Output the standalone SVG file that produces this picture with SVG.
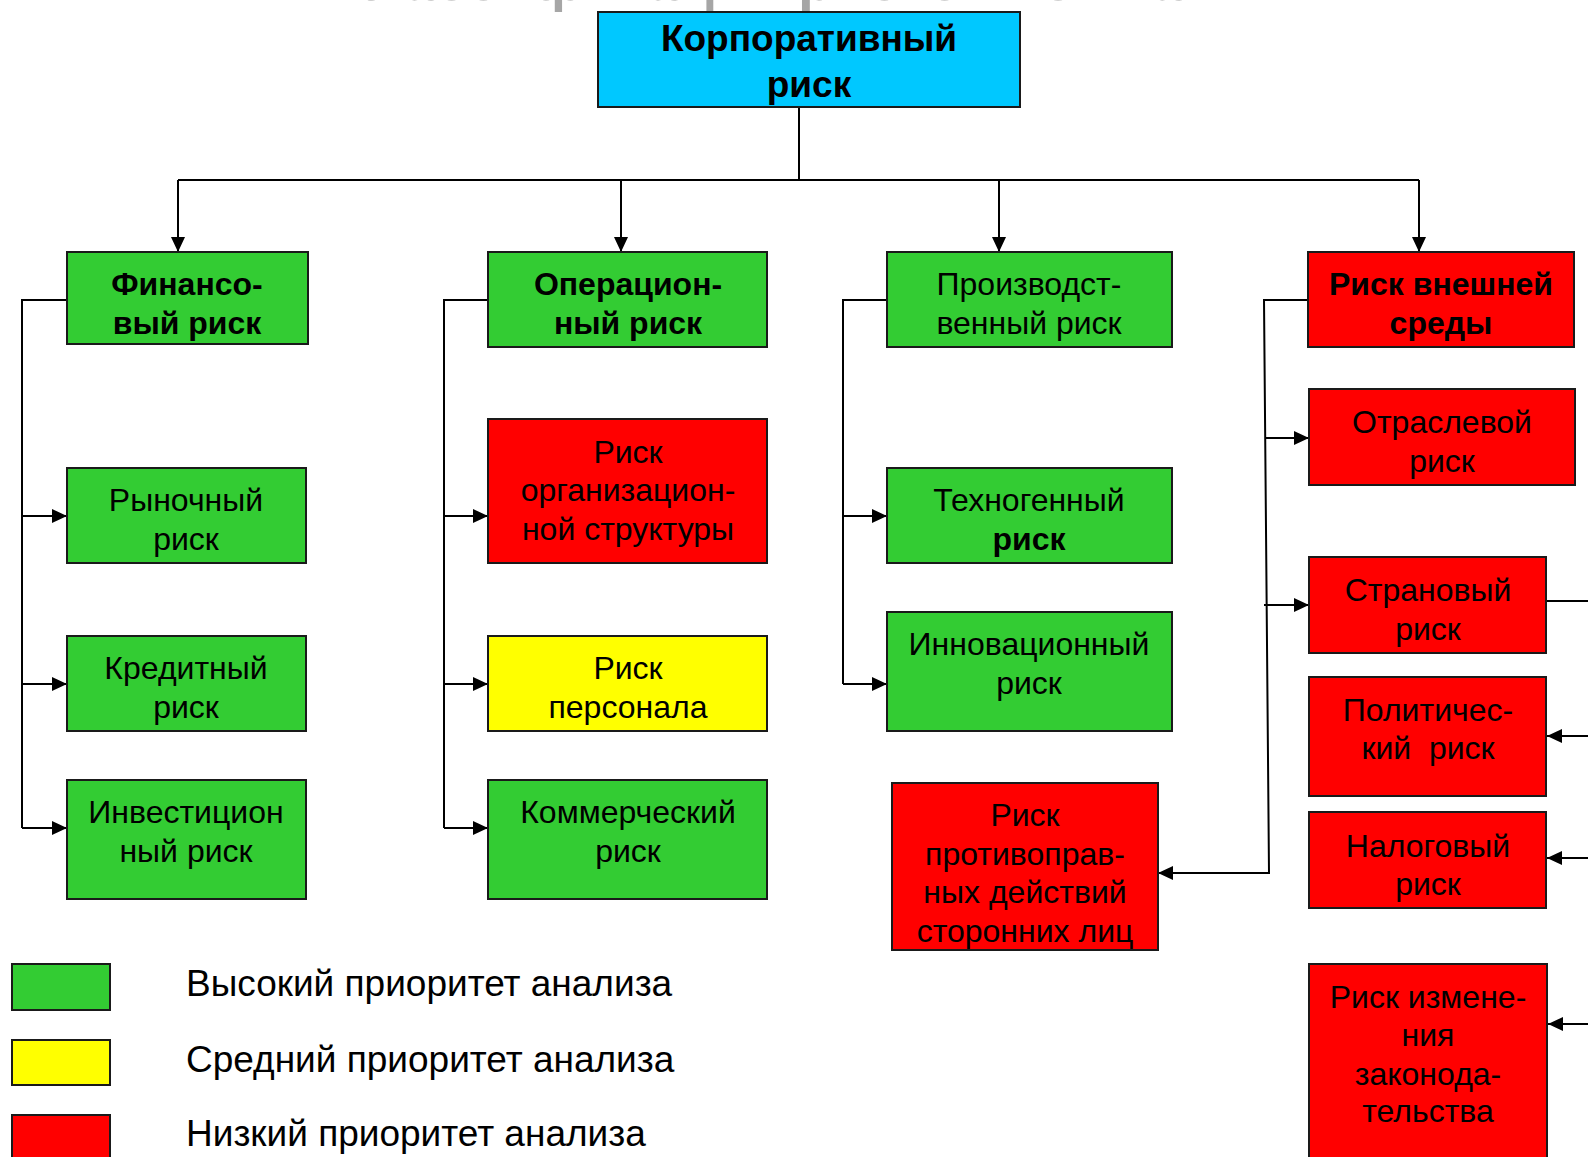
<svg xmlns="http://www.w3.org/2000/svg" width="1588" height="1157" viewBox="0 0 1588 1157">
<defs>
<style>
.box{stroke:#1a1a1a;stroke-width:2}
.g{fill:#33cc33}.r{fill:#ff0000}.y{fill:#ffff00}.b{fill:#00c8ff}
text{font-family:"Liberation Sans",Arial,sans-serif;fill:#000;text-anchor:middle;white-space:pre}
.t{font-size:32px}
.tb{font-size:32px;font-weight:bold}
.top{font-size:37px;font-weight:bold}
.leg{font-size:37px;text-anchor:start}
.title{font-size:57px;font-weight:bold;fill:#a6a6a6}
.c{fill:none;stroke:#000;stroke-width:2}
</style>
<marker id="ar" markerUnits="userSpaceOnUse" markerWidth="16" markerHeight="14" refX="15" refY="7" orient="auto">
<path d="M0,0 L15,7 L0,14 Z" fill="#000"/>
</marker>
</defs>
<rect width="1588" height="1157" fill="#fff"/>
<text class="title" x="810" y="0">Классификация рисков компании</text>

<g id="connectors">
<path class="c" d="M799,107 V180 M178,180 H1419"/>
<path class="c" d="M178,180 V252" marker-end="url(#ar)"/>
<path class="c" d="M621,180 V252" marker-end="url(#ar)"/>
<path class="c" d="M999,180 V252" marker-end="url(#ar)"/>
<path class="c" d="M1419,180 V252" marker-end="url(#ar)"/>
<path class="c" d="M67,300 H22 V828"/>
<path class="c" d="M22,516 H67" marker-end="url(#ar)"/>
<path class="c" d="M22,684 H67" marker-end="url(#ar)"/>
<path class="c" d="M22,828 H67" marker-end="url(#ar)"/>
<path class="c" d="M488,300 H444 V828"/>
<path class="c" d="M444,516 H488" marker-end="url(#ar)"/>
<path class="c" d="M444,684 H488" marker-end="url(#ar)"/>
<path class="c" d="M444,828 H488" marker-end="url(#ar)"/>
<path class="c" d="M887,300 H843 V684"/>
<path class="c" d="M843,516 H887" marker-end="url(#ar)"/>
<path class="c" d="M843,684 H887" marker-end="url(#ar)"/>
<path class="c" d="M1308,300 H1264 L1269,873 H1158" marker-end="url(#ar)"/>
<path class="c" d="M1265,438 H1309" marker-end="url(#ar)"/>
<path class="c" d="M1264,605 H1309" marker-end="url(#ar)"/>
<path class="c" d="M1547,601 H1588"/>
<path class="c" d="M1588,736 H1547" marker-end="url(#ar)"/>
<path class="c" d="M1588,858 H1547" marker-end="url(#ar)"/>
<path class="c" d="M1588,1024 H1548" marker-end="url(#ar)"/>
</g>

<g id="n-corp"><rect class="box b" x="598" y="12" width="422" height="95"/>
<text class="top" x="809" y="51">Корпоративный</text><text class="top" x="809" y="97">риск</text></g>

<g id="n-fin"><rect class="box g" x="67" y="252" width="241" height="92"/>
<text class="tb" x="187" y="295">Финансо-</text><text class="tb" x="187" y="334">вый риск</text></g>
<g id="n-market"><rect class="box g" x="67" y="468" width="239" height="95"/>
<text class="t" x="186" y="511">Рыночный</text><text class="t" x="186" y="550">риск</text></g>
<g id="n-credit"><rect class="box g" x="67" y="636" width="239" height="95"/>
<text class="t" x="186" y="679">Кредитный</text><text class="t" x="186" y="718">риск</text></g>
<g id="n-invest"><rect class="box g" x="67" y="780" width="239" height="119"/>
<text class="t" x="186" y="823">Инвестицион</text><text class="t" x="186" y="862">ный риск</text></g>

<g id="n-oper"><rect class="box g" x="488" y="252" width="279" height="95"/>
<text class="tb" x="628" y="295">Операцион-</text><text class="tb" x="628" y="334">ный риск</text></g>
<g id="n-org"><rect class="box r" x="488" y="419" width="279" height="144"/>
<text class="t" x="628" y="463">Риск</text><text class="t" x="628" y="501">организацион-</text><text class="t" x="628" y="540">ной структуры</text></g>
<g id="n-staff"><rect class="box y" x="488" y="636" width="279" height="95"/>
<text class="t" x="628" y="679">Риск</text><text class="t" x="628" y="718">персонала</text></g>
<g id="n-comm"><rect class="box g" x="488" y="780" width="279" height="119"/>
<text class="t" x="628" y="823">Коммерческий</text><text class="t" x="628" y="862">риск</text></g>

<g id="n-prod"><rect class="box g" x="887" y="252" width="285" height="95"/>
<text class="t" x="1029" y="295">Производст-</text><text class="t" x="1029" y="334">венный риск</text></g>
<g id="n-tech"><rect class="box g" x="887" y="468" width="285" height="95"/>
<text class="t" x="1029" y="511">Техногенный</text><text class="tb" x="1029" y="550">риск</text></g>
<g id="n-innov"><rect class="box g" x="887" y="612" width="285" height="119"/>
<text class="t" x="1029" y="655">Инновационный</text><text class="t" x="1029" y="694">риск</text></g>
<g id="n-illegal"><rect class="box r" x="892" y="783" width="266" height="167"/>
<text class="t" x="1025" y="826">Риск</text><text class="t" x="1025" y="865">противоправ-</text><text class="t" x="1025" y="903">ных действий</text><text class="t" x="1025" y="942">сторонних лиц</text></g>

<g id="n-ext"><rect class="box r" x="1308" y="252" width="266" height="95"/>
<text class="tb" x="1441" y="295">Риск внешней</text><text class="tb" x="1441" y="334">среды</text></g>
<g id="n-industry"><rect class="box r" x="1309" y="389" width="266" height="96"/>
<text class="t" x="1442" y="433">Отраслевой</text><text class="t" x="1442" y="472">риск</text></g>
<g id="n-country"><rect class="box r" x="1309" y="557" width="237" height="96"/>
<text class="t" x="1428" y="601">Страновый</text><text class="t" x="1428" y="640">риск</text></g>
<g id="n-polit"><rect class="box r" x="1309" y="677" width="237" height="119"/>
<text class="t" x="1428" y="721">Политичес-</text><text class="t" x="1428" y="759">кий  риск</text></g>
<g id="n-tax"><rect class="box r" x="1309" y="812" width="237" height="96"/>
<text class="t" x="1428" y="857">Налоговый</text><text class="t" x="1428" y="895">риск</text></g>
<g id="n-law"><rect class="box r" x="1309" y="964" width="238" height="210"/>
<text class="t" x="1428" y="1008">Риск измене-</text><text class="t" x="1428" y="1046">ния</text><text class="t" x="1428" y="1085">законода-</text><text class="t" x="1428" y="1122">тельства</text></g>

<g id="legend">
<rect class="box g" x="12" y="964" width="98" height="46"/>
<rect class="box y" x="12" y="1040" width="98" height="45"/>
<rect class="box r" x="12" y="1115" width="98" height="60"/>
<text class="leg" x="186" y="996">Высокий приоритет анализа</text>
<text class="leg" x="186" y="1072">Средний приоритет анализа</text>
<text class="leg" x="186" y="1146">Низкий приоритет анализа</text>
</g>
</svg>
